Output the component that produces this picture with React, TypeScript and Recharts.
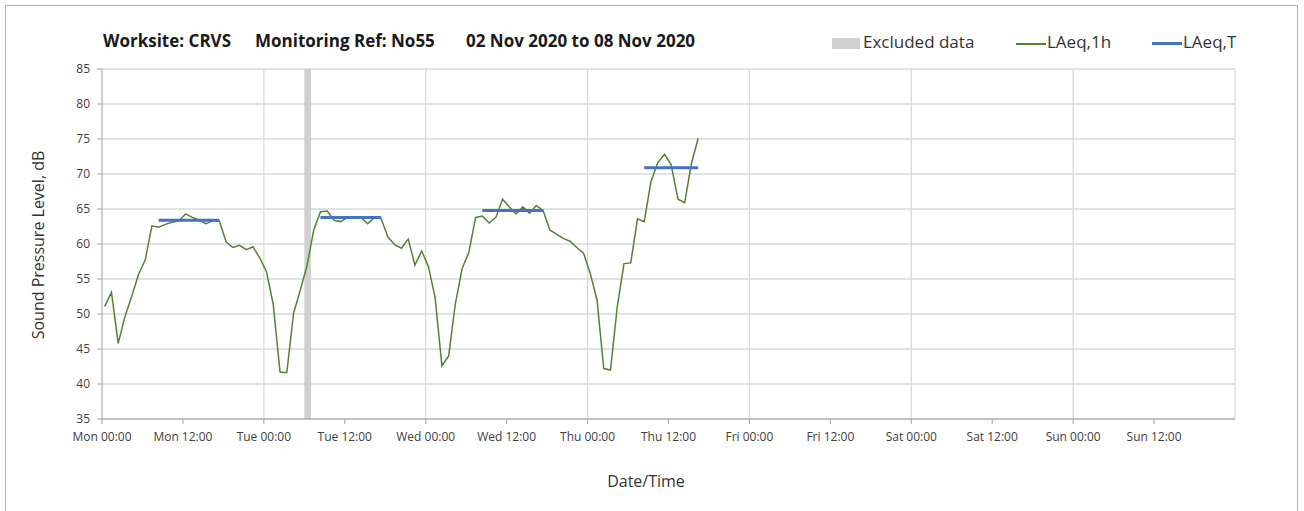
import {
  ComposedChart,
  Line,
  XAxis,
  YAxis,
  CartesianGrid,
  ReferenceArea,
  ReferenceLine,
} from "recharts";

const DAYS = ["Mon", "Tue", "Wed", "Thu", "Fri", "Sat", "Sun"];
const X_TICKS = [0, 12, 24, 36, 48, 60, 72, 84, 96, 108, 120, 132, 144, 156];
const DAY_LINES = [24, 48, 72, 96, 120, 144, 168];
const Y_TICKS = [35, 40, 45, 50, 55, 60, 65, 70, 75, 80, 85];

// hourly LAeq,1h, first value Mon 00:00 (hours since start of week)
const LAEQ_1H = [
  51.1, 53.1, 45.8, 49.6, 52.5, 55.6, 57.7, 62.6, 62.4, 62.8,
  63.1, 63.3, 64.3, 63.8, 63.4, 62.9, 63.3, 63.3, 60.3, 59.5,
  59.8, 59.2, 59.6, 58.0, 56.0, 51.3, 41.7, 41.6, 50.1, 53.4,
  56.9, 62.0, 64.6, 64.7, 63.4, 63.2, 63.8, 63.8, 63.8, 62.9,
  63.8, 63.6, 61.0, 59.9, 59.4, 60.7, 57.0, 59.0, 56.8, 52.3,
  42.6, 44.0, 51.5, 56.5, 58.8, 63.8, 64.0, 63.0, 63.8, 66.4,
  65.3, 64.3, 65.3, 64.4, 65.5, 64.8, 62.0, 61.4, 60.8, 60.4,
  59.5, 58.7, 55.8, 52.0, 42.2, 42.0, 51.0, 57.2, 57.3, 63.6,
  63.2, 68.9, 71.6, 72.8, 71.3, 66.4, 65.9, 71.5, 75.1,
];

// daytime LAeq,T periods (hour index range)
const LAEQ_T = [
  { from: 8, to: 17, value: 63.4 },
  { from: 32, to: 41, value: 63.8 },
  { from: 56, to: 65, value: 64.8 },
  { from: 80, to: 88, value: 70.9 },
];

const EXCLUDED = [{ from: 30, to: 31 }];

const TITLE_PARTS = ["Worksite: CRVS", "Monitoring Ref: No55", "02 Nov 2020 to 08 Nov 2020"];

const data = LAEQ_1H.map((v, i) => {
  const period = LAEQ_T.find((p) => i >= p.from && i <= p.to);
  return { t: i + 0.4, laeq1h: v, laeqT: period ? period.value : null };
});

const fmtTick = (t: number) => {
  const day = DAYS[Math.floor(t / 24) % 7];
  return `${day} ${t % 24 === 0 ? "00:00" : "12:00"}`;
};

const FONT = "'Open Sans', Lato, sans-serif";

export default function App() {
  const titleX = [103, 255, 466];
  return (
    <div
      style={{
        position: "absolute",
        left: 0,
        top: 0,
        width: 1304,
        height: 511,
        background: "#fff",
        fontFamily: FONT,
        color: "#262626",
      }}
    >
      <div
        style={{
          position: "absolute",
          left: 5,
          top: 5,
          width: 1291,
          height: 520,
          border: "1px solid #b4b4b4",
        }}
      />
      {TITLE_PARTS.map((s, i) => (
        <div
          key={s}
          style={{
            position: "absolute",
            left: titleX[i],
            top: 29,
            fontSize: 17,
            fontWeight: 700,
            whiteSpace: "pre",
            color: "#1a1a1a",
          }}
        >
          {s}
        </div>
      ))}

      {/* legend */}
      <div style={{ position: "absolute", left: 832, top: 38, width: 28, height: 11, background: "#d0d0d0" }} />
      <div style={{ position: "absolute", left: 863, top: 30, fontSize: 17, color: "#333" }}>Excluded data</div>
      <div style={{ position: "absolute", left: 1016, top: 43, width: 30, height: 1.5, background: "#548235" }} />
      <div style={{ position: "absolute", left: 1047, top: 30, fontSize: 17, color: "#333" }}>LAeq,1h</div>
      <div style={{ position: "absolute", left: 1152, top: 42, width: 30, height: 3, background: "#4472c4" }} />
      <div style={{ position: "absolute", left: 1183, top: 30, fontSize: 17, color: "#333" }}>LAeq,T</div>

      <div
        style={{
          position: "absolute",
          left: 38,
          top: 245,
          transform: "translate(-50%, -50%) rotate(-90deg)",
          fontSize: 16,
          whiteSpace: "nowrap",
          color: "#333",
        }}
      >
        Sound Pressure Level, dB
      </div>
      <div
        style={{
          position: "absolute",
          left: 646,
          top: 481,
          transform: "translate(-50%, -50%)",
          fontSize: 16,
          color: "#333",
        }}
      >
        Date/Time
      </div>

      <div style={{ position: "absolute", left: 0, top: 0 }}>
        <ComposedChart
          width={1304}
          height={511}
          data={data}
          margin={{ top: 69, right: 69, bottom: 62, left: 0 }}
        >
          <CartesianGrid vertical={false} stroke="#d9d9d9" strokeWidth={1.3} />
          {DAY_LINES.map((d) => (
            <ReferenceLine key={d} x={d} stroke="#d9d9d9" strokeWidth={1.3} />
          ))}
          {EXCLUDED.map((e) => (
            <ReferenceArea
              key={e.from}
              x1={e.from}
              x2={e.to}
              y1={35}
              y2={85}
              fill="#d0d0d0"
              fillOpacity={1}
              stroke="none"
            />
          ))}
          <XAxis
            dataKey="t"
            type="number"
            domain={[0, 168]}
            ticks={X_TICKS}
            tickFormatter={fmtTick}
            interval={0}
            height={30}
            tickSize={5}
            tickMargin={8}
            stroke="#a0a0a0"
            tick={{ fill: "#404040", fontSize: 12, fontFamily: FONT }}
          />
          <YAxis
            type="number"
            domain={[35, 85]}
            ticks={Y_TICKS}
            interval={0}
            width={102}
            tickSize={5}
            tickMargin={7}
            stroke="#a0a0a0"
            tick={{ fill: "#404040", fontSize: 12, fontFamily: FONT }}
          />
          <Line
            dataKey="laeq1h"
            stroke="#548235"
            strokeWidth={1.5}
            dot={false}
            isAnimationActive={false}
          />
          <Line
            dataKey="laeqT"
            stroke="#4472c4"
            strokeWidth={3}
            dot={false}
            connectNulls={false}
            isAnimationActive={false}
          />
        </ComposedChart>
      </div>
    </div>
  );
}
